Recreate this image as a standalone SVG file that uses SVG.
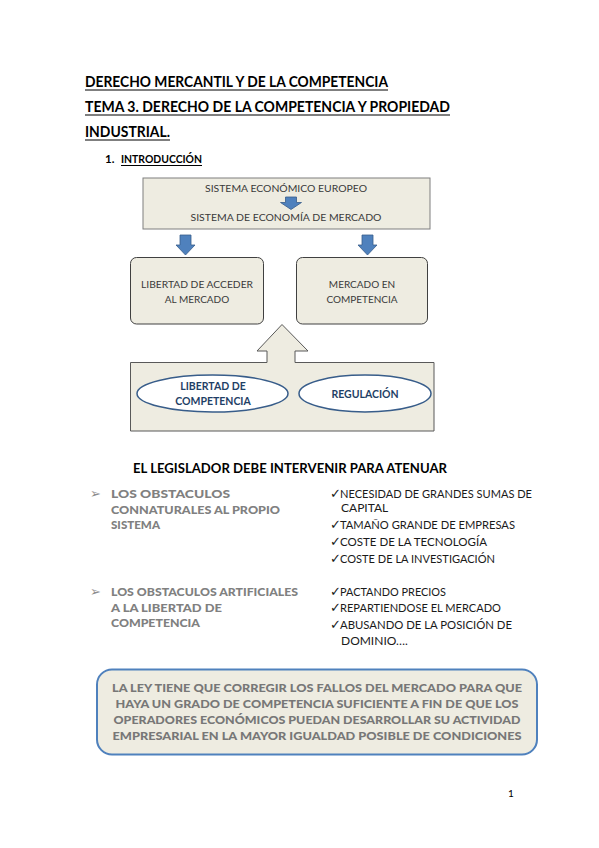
<svg xmlns="http://www.w3.org/2000/svg" width="599" height="848" viewBox="0 0 599 848">
<defs>
<style>
text{font-family:Lato,"Liberation Sans",sans-serif;}
.h{font-size:15.5px;font-weight:bold;fill:#000;}
.sub{font-size:11.5px;font-weight:bold;fill:#000;}
.ul{stroke:#000;stroke-width:1.2;}
.bx{fill:#eeece1;stroke:#7f7f7f;stroke-width:1;}
.rb{fill:#eeece1;stroke:#404040;stroke-width:1;}
.bt{font-size:10px;fill:#3a3a3a;text-anchor:middle;}
.ar{fill:#4f81bd;stroke:#385d8a;stroke-width:0.8;}
.el{fill:#ffffff;stroke:#385d8a;stroke-width:1.5;}
.et{font-size:10.5px;font-weight:bold;fill:#1f3f66;text-anchor:middle;}
.g{font-size:12px;font-weight:900;fill:#808080;}
.l{font-size:12px;fill:#1a1a1a;}
.ck{font-family:"DejaVu Sans",sans-serif;font-size:13px;fill:#1a1a1a;}
.bu{font-family:"DejaVu Sans",sans-serif;font-size:13px;fill:#8c8c8c;}
.bb{fill:#eeece1;stroke:#4f81bd;stroke-width:2;}
.bw{font-size:12px;font-weight:900;fill:#777777;text-anchor:middle;}
</style>
</defs>

<g id="titles">
<text class="h" x="85" y="87" textLength="303" lengthAdjust="spacingAndGlyphs">DERECHO MERCANTIL Y DE LA COMPETENCIA</text>
<line class="ul" x1="85" y1="90" x2="388" y2="90"/>
<text class="h" x="85" y="112" textLength="365" lengthAdjust="spacingAndGlyphs">TEMA 3. DERECHO DE LA COMPETENCIA Y PROPIEDAD</text>
<line class="ul" x1="85" y1="115" x2="450" y2="115"/>
<text class="h" x="85" y="137" textLength="85" lengthAdjust="spacingAndGlyphs">INDUSTRIAL.</text>
<line class="ul" x1="85" y1="140" x2="170" y2="140"/>
<text class="sub" x="105" y="163">1.</text>
<text class="sub" x="121" y="163" textLength="81" lengthAdjust="spacingAndGlyphs">INTRODUCCIÓN</text>
<line class="ul" x1="121" y1="165.5" x2="202" y2="165.5" style="stroke-width:1"/>
</g>

<g id="sistema">
<rect class="bx" x="143" y="178" width="287" height="51"/>
<text class="bt" x="286" y="192" textLength="162" lengthAdjust="spacingAndGlyphs">SISTEMA ECONÓMICO EUROPEO</text>
<text class="bt" x="286" y="221" textLength="191" lengthAdjust="spacingAndGlyphs">SISTEMA DE ECONOMÍA DE MERCADO</text>
</g>

<g id="connectors">
<path class="ar" d="M285.5,197 H296.5 V202.5 H301.5 L291,209.5 L280.5,202.5 H285.5 Z"/>
<path class="ar" d="M180,235 H191 V245 H195 L185.5,255 L176,245 H180 Z"/>
<path class="ar" d="M362,235 H373 V245 H377 L367.5,255 L358,245 H362 Z"/>
</g>

<g id="libertad-acceder">
<rect class="rb" x="130.5" y="257.5" width="133" height="66.5" rx="6"/>
<text class="bt" x="197" y="288" textLength="112" lengthAdjust="spacingAndGlyphs">LIBERTAD DE ACCEDER</text>
<text class="bt" x="197" y="303">AL MERCADO</text>
</g>

<g id="mercado-competencia">
<rect class="rb" x="296.5" y="257.5" width="131" height="66.5" rx="6"/>
<text class="bt" x="362" y="288">MERCADO EN</text>
<text class="bt" x="362" y="303">COMPETENCIA</text>
</g>

<g id="base">
<path class="rb" d="M130.5,362.5 H267 V351 H257 L282,324.5 L308,351 H295 V362.5 H434 V431 H130.5 Z" style="stroke:#595959"/>
</g>

<g id="libertad-competencia">
<ellipse class="el" cx="212.5" cy="393.5" rx="75.5" ry="18.5"/>
<text class="et" x="213" y="390">LIBERTAD DE</text>
<text class="et" x="213" y="404.5">COMPETENCIA</text>
</g>

<g id="regulacion">
<ellipse class="el" cx="365" cy="393.5" rx="66" ry="18.5"/>
<text class="et" x="365" y="397.5">REGULACIÓN</text>
</g>

<g id="legislador">
<text x="133" y="473" style="font-size:13.5px;font-weight:bold;fill:#000" textLength="314" lengthAdjust="spacingAndGlyphs">EL LEGISLADOR DEBE INTERVENIR PARA ATENUAR</text>
</g>

<g id="obstaculos-connaturales">
<text class="bu" x="90" y="498">➢</text>
<text class="g" x="111" y="498" textLength="119" lengthAdjust="spacingAndGlyphs">LOS OBSTACULOS</text>
<text class="g" x="111" y="513.5" textLength="169" lengthAdjust="spacingAndGlyphs">CONNATURALES AL PROPIO</text>
<text class="g" x="111" y="529" textLength="49" lengthAdjust="spacingAndGlyphs">SISTEMA</text>
</g>

<g id="lista-connaturales">
<text class="ck" x="330" y="498">✓</text>
<text class="l" x="340" y="498" textLength="192" lengthAdjust="spacingAndGlyphs">NECESIDAD DE GRANDES SUMAS DE</text>
<text class="l" x="341" y="512">CAPITAL</text>
<text class="ck" x="330" y="529">✓</text>
<text class="l" x="340" y="529" textLength="175" lengthAdjust="spacingAndGlyphs">TAMAÑO GRANDE DE EMPRESAS</text>
<text class="ck" x="330" y="546">✓</text>
<text class="l" x="340" y="546" textLength="147" lengthAdjust="spacingAndGlyphs">COSTE DE LA TECNOLOGÍA</text>
<text class="ck" x="330" y="563">✓</text>
<text class="l" x="340" y="563" textLength="155" lengthAdjust="spacingAndGlyphs">COSTE DE LA INVESTIGACIÓN</text>
</g>

<g id="obstaculos-artificiales">
<text class="bu" x="90" y="596">➢</text>
<text class="g" x="111" y="596" textLength="187" lengthAdjust="spacingAndGlyphs">LOS OBSTACULOS ARTIFICIALES</text>
<text class="g" x="111" y="611.5" textLength="111" lengthAdjust="spacingAndGlyphs">A LA LIBERTAD DE</text>
<text class="g" x="111" y="627" textLength="89" lengthAdjust="spacingAndGlyphs">COMPETENCIA</text>
</g>

<g id="lista-artificiales">
<text class="ck" x="330" y="596">✓</text>
<text class="l" x="340" y="596" textLength="106" lengthAdjust="spacingAndGlyphs">PACTANDO PRECIOS</text>
<text class="ck" x="330" y="612">✓</text>
<text class="l" x="340" y="612" textLength="161" lengthAdjust="spacingAndGlyphs">REPARTIENDOSE EL MERCADO</text>
<text class="ck" x="330" y="629">✓</text>
<text class="l" x="340" y="629" textLength="172" lengthAdjust="spacingAndGlyphs">ABUSANDO DE LA POSICIÓN DE</text>
<text class="l" x="341" y="645">DOMINIO….</text>
</g>

<g id="conclusion">
<rect class="bb" x="97" y="669.5" width="440" height="85" rx="15"/>
<text class="bw" x="317" y="692" textLength="410" lengthAdjust="spacingAndGlyphs">LA LEY TIENE QUE CORREGIR LOS FALLOS DEL MERCADO PARA QUE</text>
<text class="bw" x="317" y="708" textLength="403" lengthAdjust="spacingAndGlyphs">HAYA UN GRADO DE COMPETENCIA SUFICIENTE A FIN DE QUE LOS</text>
<text class="bw" x="317" y="724" textLength="407" lengthAdjust="spacingAndGlyphs">OPERADORES ECONÓMICOS PUEDAN DESARROLLAR SU ACTIVIDAD</text>
<text class="bw" x="317" y="740" textLength="409" lengthAdjust="spacingAndGlyphs">EMPRESARIAL EN LA MAYOR IGUALDAD POSIBLE DE CONDICIONES</text>
</g>

<g id="page">
<text x="508" y="797" style="font-size:10px;fill:#000">1</text>
</g>
</svg>
